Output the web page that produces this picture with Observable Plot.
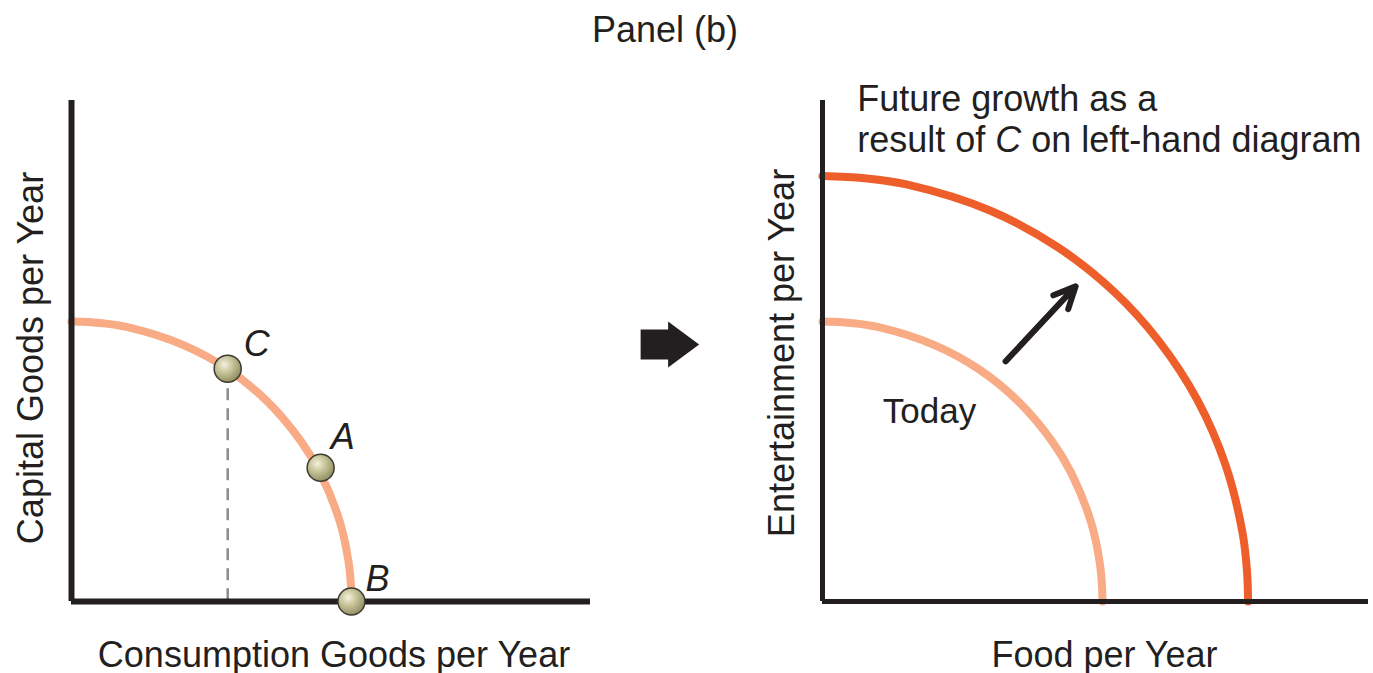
<!DOCTYPE html>
<html>
<head>
<meta charset="utf-8">
<script src="https://cdn.jsdelivr.net/npm/d3@7"></script>
<script src="https://cdn.jsdelivr.net/npm/@observablehq/plot@0.6"></script>
<style>
  html, body { margin: 0; padding: 0; background: #fff; }
  #wrap { position: relative; width: 1373px; height: 673px; overflow: hidden;
          font-family: "Liberation Sans", Arial, Helvetica, sans-serif; color: #231f20; }
  #title { position: absolute; left: 0; top: 12px; width: 1330px; text-align: center;
           font-size: 36px; line-height: 36px; }
  #left { position: absolute; left: 0; top: 60px; }
  #right { position: absolute; left: 600px; top: 60px; }
  svg { background: transparent !important; }
</style>
</head>
<body>
<div id="wrap">
  <div id="title">Panel (b)</div>
  <div id="left"></div>
  <div id="right"></div>
</div>
<script>
// ---- data (1 unit ≈ 56 px) ----
const titleText = "Panel (b)";

// Left: production possibilities curve
const ppfX = [0, 0.5, 1.0, 2.0, 2.79, 3.5, 4.1, 4.45, 4.8, 4.95, 4.99, 5.0];
const ppfY = [5.0, 4.975, 4.9, 4.58, 4.15, 3.57, 2.86, 2.28, 1.4, 0.7, 0.3, 0];
const pointNames = ["C", "A", "B"];
const pointX = [2.79, 4.45, 5.0];
const pointY = [4.16, 2.39, 0];
const leftXLabel = "Consumption Goods per Year";
const leftYLabel = "Capital Goods per Year";

// Right: today vs future growth
const todayX = [0, 0.5, 1.0, 2.0, 2.79, 3.5, 4.1, 4.45, 4.8, 4.95, 4.99, 5.0];
const todayY = [5.0, 4.975, 4.9, 4.58, 4.15, 3.57, 2.86, 2.28, 1.4, 0.7, 0.3, 0];
const futureX = [0, 0.75, 1.5, 3.0, 4.2, 5.2, 6.0, 6.7, 7.2, 7.5, 7.58, 7.6];
const futureY = [7.6, 7.56, 7.45, 6.98, 6.33, 5.54, 4.66, 3.59, 2.43, 1.23, 0.55, 0];
const growthArrow = {x1: 3.27, y1: 4.29, x2: 4.52, y2: 5.63};
const todayLabel = {text: "Today", x: 1.91, y: 3.38};
const futureNote = {text: "Future growth as a\nresult of C on left-hand diagram", x: 0.62, y: 9.27};
const rightXLabel = "Food per Year";
const rightYLabel = "Entertainment per Year";
const transition = {x: -2.73, y: 4.59};

// ---- styling ----
const FONT = '"Liberation Sans", Arial, Helvetica, sans-serif';
const INK = "#231f20";
const LIGHT = "#f8ab84";
const DARK = "#ee5e2b";
const FS = 36;

const ppf = ppfX.map((x, i) => ({x, y: ppfY[i]}));
const points = pointNames.map((n, i) => ({name: n, x: pointX[i], y: pointY[i]}));
const today = todayX.map((x, i) => ({x, y: todayY[i]}));
const future = futureX.map((x, i) => ({x, y: futureY[i]}));
const pointC = points.find(p => p.name === "C");
const labelOffsets = {C: [16, -13], A: [10, -19], B: [14, -11]};

// block-arrow symbol
const blockArrow = {
  draw(context, size) {
    const r = Math.sqrt(size / Math.PI);
    const s = r / 29;
    context.moveTo(-29 * s, -15 * s);
    context.lineTo(-1.5 * s, -15 * s);
    context.lineTo(-1.5 * s, -23 * s);
    context.lineTo(29.5 * s, 0);
    context.lineTo(-1.5 * s, 23 * s);
    context.lineTo(-1.5 * s, 15 * s);
    context.lineTo(-29 * s, 15 * s);
    context.closePath();
  }
};

const left = Plot.plot({
  width: 600, height: 613,
  marginLeft: 71, marginRight: 10, marginTop: 40, marginBottom: 72,
  x: {domain: [0, 9.27], axis: null},
  y: {domain: [0, 8.95], axis: null},
  style: {fontFamily: FONT, fontSize: FS + "px", color: INK, background: "transparent"},
  marks: [
    Plot.ruleX([pointC], {x: "x", y1: "y", y2: 0, stroke: "#8c8c8c", strokeWidth: 2.5,
      strokeDasharray: "12 8", insetTop: 20}),
    Plot.line(ppf, {x: "x", y: "y", stroke: LIGHT, strokeWidth: 8, curve: "catmull-rom"}),
    Plot.ruleX([0], {stroke: INK, strokeWidth: 6}),
    Plot.ruleY([0], {stroke: INK, strokeWidth: 6}),
    Plot.dot(points, {x: "x", y: "y", r: 13.5, fill: "url(#ballGrad)", stroke: "#3d3b30", strokeWidth: 1.5}),
    ...pointNames.map(n => Plot.text(points.filter(p => p.name === n), {x: "x", y: "y", text: "name",
      textAnchor: "start", lineAnchor: "bottom", fontStyle: "italic", fontSize: FS, fill: INK,
      dx: labelOffsets[n][0], dy: labelOffsets[n][1]})),
    Plot.text([leftXLabel], {text: d => d, frameAnchor: "bottom", textAnchor: "middle", lineAnchor: "bottom", dy: 65, dx: 3, fontSize: FS, fill: INK}),
    Plot.text([leftYLabel], {text: d => d, frameAnchor: "left", textAnchor: "middle", rotate: -90, lineAnchor: "bottom", dx: -29, dy: 7, fontSize: FS, fill: INK})
  ]
});

const right = Plot.plot({
  width: 773, height: 613,
  marginLeft: 222, marginRight: 5, marginTop: 40, marginBottom: 72,
  x: {domain: [0, 9.75], axis: null},
  y: {domain: [0, 8.95], axis: null},
  style: {fontFamily: FONT, fontSize: FS + "px", color: INK, background: "transparent"},
  marks: [
    Plot.line(today, {x: "x", y: "y", stroke: LIGHT, strokeWidth: 8, curve: "catmull-rom"}),
    Plot.line(future, {x: "x", y: "y", stroke: DARK, strokeWidth: 8, curve: "catmull-rom"}),
    Plot.ruleX([0], {stroke: INK, strokeWidth: 5}),
    Plot.ruleY([0], {stroke: INK, strokeWidth: 5}),
    Plot.arrow([growthArrow], {x1: "x1", y1: "y1", x2: "x2", y2: "y2", stroke: INK, strokeWidth: 6, headLength: 6, headAngle: 50}),
    Plot.text([todayLabel], {x: "x", y: "y", text: "text", fontSize: FS - 1, fill: INK}),
    Plot.text([futureNote], {x: "x", y: "y", text: "text", textAnchor: "start", lineAnchor: "top", lineHeight: 1.13, fontSize: FS, fill: INK}),
    Plot.dot([transition], {x: "x", y: "y", r: 29, symbol: blockArrow, fill: INK, stroke: "none"}),
    Plot.text([rightXLabel], {text: d => d, frameAnchor: "bottom", textAnchor: "middle", lineAnchor: "bottom", dy: 65, dx: 9, fontSize: FS, fill: INK}),
    Plot.text([rightYLabel], {text: d => d, frameAnchor: "left", textAnchor: "middle", rotate: -90, lineAnchor: "bottom", dx: -29, dy: 2, fontSize: FS, fill: INK})
  ]
});

document.getElementById("left").appendChild(left);
document.getElementById("right").appendChild(right);

// radial gradient for the shaded balls
const defs = d3.select(left).insert("defs", ":first-child");
const g = defs.append("radialGradient").attr("id", "ballGrad")
  .attr("cx", "38%").attr("cy", "35%").attr("r", "70%");
g.append("stop").attr("offset", "0%").attr("stop-color", "#f3f1dc");
g.append("stop").attr("offset", "45%").attr("stop-color", "#c6c298");
g.append("stop").attr("offset", "100%").attr("stop-color", "#8e8a5e");

// italic C inside the annotation
d3.select(right).selectAll("tspan").each(function() {
  const t = d3.select(this);
  if (t.text().startsWith("result of C")) {
    t.text("");
    t.append("tspan").text("result of ");
    t.append("tspan").attr("font-style", "italic").text("C");
    t.append("tspan").text(" on left-hand diagram");
  }
});
</script>
</body>
</html>
